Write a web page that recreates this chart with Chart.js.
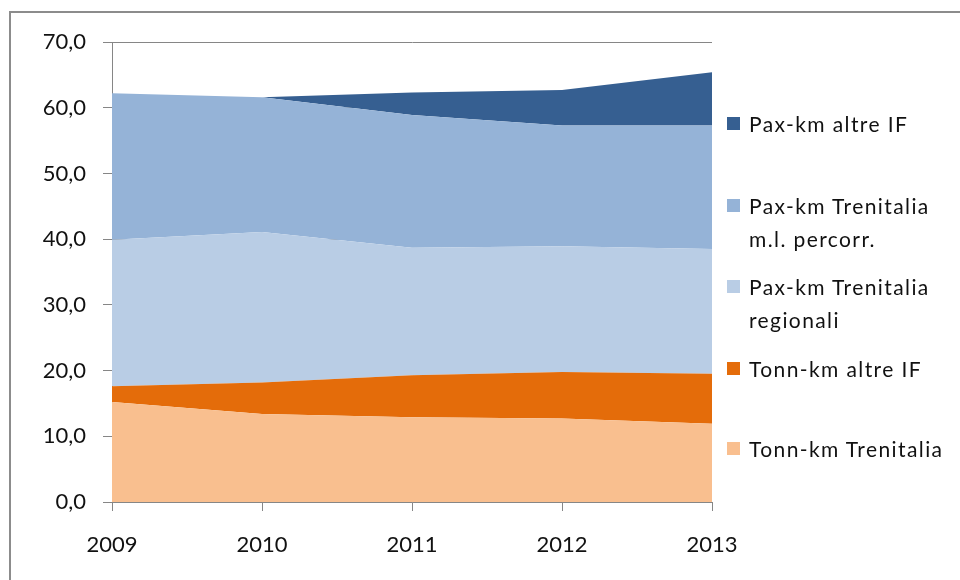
<!DOCTYPE html>
<html>
<head>
<meta charset="utf-8">
<script src="https://cdn.jsdelivr.net/npm/chart.js@4"></script>
<style>
  html, body { margin: 0; padding: 0; background: #fff; }
  #wrap { position: relative; width: 960px; height: 580px; }
  #c { position: absolute; left: 0; top: 0; }
  .lg { position: absolute; left: 727px; font-family: Lato, "Liberation Sans", sans-serif; font-size: 21px; line-height: 33px; letter-spacing: 1.4px; color: #111; }
  .lg .sw { position: absolute; left: 0; top: 10px; width: 13px; height: 13px; }
  .lg .tx { position: absolute; left: 22px; top: 0; white-space: pre; }
</style>
</head>
<body>
<div id="wrap">
  <canvas id="c" width="960" height="580"></canvas>
</div>
<script>
// ---- data ----
const years = ['2009', '2010', '2011', '2012', '2013'];
const seriesNames = [
  'Tonn-km Trenitalia',
  'Tonn-km altre IF',
  'Pax-km Trenitalia\nregionali',
  'Pax-km Trenitalia\nm.l. percorr.',
  'Pax-km altre IF'
];
const tonnTrenitalia   = [15.2, 13.4, 12.9, 12.7, 11.9];
const tonnAltreIF      = [2.4, 4.8, 6.4, 7.1, 7.6];
const paxRegionali     = [22.3, 22.9, 19.4, 19.1, 19.0];
const paxMlPercorr     = [22.3, 20.5, 20.2, 18.4, 18.8];
const paxAltreIF       = [0.0, 0.0, 3.4, 5.4, 8.1];
const seriesColors = ['#F9BF8F', '#E46C0A', '#B9CDE5', '#95B3D7', '#365F91'];
const yTicks = [0, 10, 20, 30, 40, 50, 60, 70];

const seriesValues = [tonnTrenitalia, tonnAltreIF, paxRegionali, paxMlPercorr, paxAltreIF];

const datasets = seriesValues.map((vals, i) => ({
  label: seriesNames[i],
  data: vals,
  backgroundColor: seriesColors[i],
  borderColor: seriesColors[i],
  borderWidth: 0,
  pointRadius: 0,
  pointHoverRadius: 0,
  tension: 0,
  fill: i === 0 ? 'origin' : '-1'
}));

const FONT = { family: 'Lato, "Liberation Sans", sans-serif', size: 22 };

const framePlugin = {
  id: 'frame',
  beforeDraw(chart) {
    const ctx = chart.ctx;
    ctx.save();
    ctx.strokeStyle = '#8c8c8c';
    ctx.lineWidth = 2;
    ctx.beginPath();
    ctx.moveTo(10, 580);
    ctx.lineTo(10, 12);
    ctx.lineTo(960, 12);
    ctx.stroke();
    ctx.restore();
  }
};

new Chart(document.getElementById('c'), {
  type: 'line',
  data: { labels: years, datasets },
  options: {
    responsive: false,
    animation: false,
    events: [],
    layout: { padding: { left: 0, right: 248, top: 42, bottom: 0 } },
    plugins: { legend: { display: false }, tooltip: { enabled: false } },
    scales: {
      x: {
        type: 'category',
        offset: false,
        grid: { display: true, drawOnChartArea: false, drawTicks: true, tickLength: 9, color: '#868686', lineWidth: 1 },
        border: { display: true, color: '#868686', width: 1 },
        ticks: { color: '#111', font: FONT, padding: 21, maxRotation: 0 },
        afterFit(scale) { scale.height = 78; }
      },
      y: {
        stacked: true,
        min: 0,
        max: 70,
        afterBuildTicks(scale) { scale.ticks = yTicks.map(v => ({ value: v })); },
        grid: { display: true, drawOnChartArea: true, drawTicks: true, tickLength: 9, color: '#868686', lineWidth: 1 },
        border: { display: true, color: '#868686', width: 1 },
        ticks: {
          color: '#111', font: FONT, padding: 17,
          callback: (v) => Number(v).toFixed(1).replace('.', ',')
        },
        afterFit(scale) { scale.width = 112; }
      }
    }
  },
  plugins: [framePlugin]
});

// ---- legend (top-to-bottom is reverse of stacking order) ----
const legendFirstLineCenters = [123.6, 205.4, 286.8, 368.6, 448];
const wrap = document.getElementById('wrap');
for (let k = 0; k < seriesNames.length; k++) {
  const i = seriesNames.length - 1 - k;
  const item = document.createElement('div');
  item.className = 'lg';
  item.style.top = (legendFirstLineCenters[k] - 16.5) + 'px';
  const sw = document.createElement('div');
  sw.className = 'sw';
  sw.style.background = seriesColors[i];
  const tx = document.createElement('div');
  tx.className = 'tx';
  tx.textContent = seriesNames[i];
  item.appendChild(sw);
  item.appendChild(tx);
  wrap.appendChild(item);
}
</script>
</body>
</html>
